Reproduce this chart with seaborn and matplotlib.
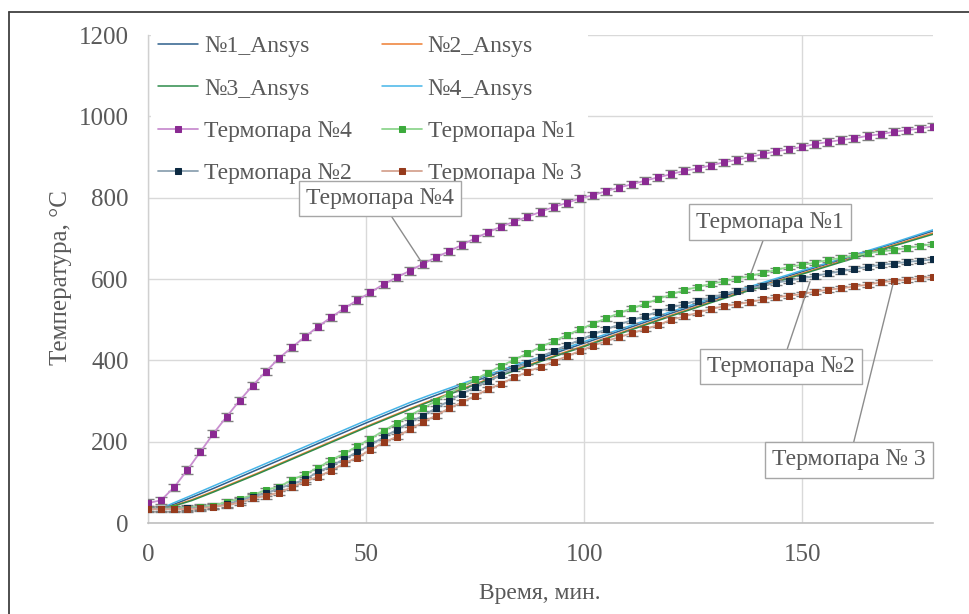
import matplotlib
matplotlib.use("Agg")
import matplotlib.pyplot as plt
import seaborn as sns
import pandas as pd
import numpy as np
from matplotlib.lines import Line2D

# ---------------- data ----------------
t_tc = list(range(0, 181, 3))  # thermocouple readings every 3 min

tc4 = [49, 56, 88, 130, 175, 220, 261, 301, 338, 372, 405, 432, 458, 483, 506, 528, 548, 567, 587, 604, 620,
       637, 653, 668, 684, 700, 715, 729, 741, 753, 765, 777, 787, 798, 806, 816, 825, 833, 842, 850, 858,
       866, 872, 879, 887, 893, 900, 907, 914, 919, 925, 932, 937, 942, 946, 952, 956, 962, 966, 970, 975]
tc1 = [35, 35, 36, 38, 40, 43, 52, 59, 69, 81, 89, 106, 120, 136, 155, 171, 189, 207, 227, 245, 264,
       282, 300, 318, 337, 353, 370, 386, 402, 417, 433, 447, 462, 476, 490, 503, 516, 528, 539, 551, 562,
       573, 580, 588, 594, 601, 607, 615, 622, 630, 635, 640, 647, 652, 658, 663, 668, 671, 676, 681, 686]
tc2 = [35, 35, 35, 36, 38, 40, 46, 55, 65, 73, 85, 96, 107, 126, 140, 157, 175, 192, 211, 229, 247,
       264, 282, 300, 318, 334, 349, 365, 380, 394, 409, 423, 437, 450, 464, 476, 488, 499, 509, 520, 530,
       538, 547, 554, 563, 571, 578, 583, 591, 596, 602, 607, 614, 619, 625, 630, 635, 638, 642, 645, 648]
tc3 = [34, 34, 34, 34, 36, 40, 44, 50, 61, 66, 75, 88, 102, 114, 129, 147, 161, 180, 198, 212, 230,
       248, 264, 282, 297, 313, 329, 343, 358, 372, 384, 397, 410, 423, 436, 447, 457, 467, 477, 487, 500,
       508, 517, 526, 533, 538, 543, 550, 555, 559, 563, 569, 574, 577, 582, 586, 592, 595, 598, 602, 605]
err_tc4 = 9
err_tc = 6

t_ansys = [3, 6, 10, 15, 20, 25, 30, 35, 40, 45, 50, 55, 60, 65, 70, 75, 80, 85, 90, 95, 100,
           110, 120, 130, 140, 150, 160, 170, 180]
ansys1 = [36, 46, 63, 85, 108, 131, 154, 177, 200, 223, 246, 268, 290, 310, 330, 349, 368, 387, 405, 424, 442,
          479, 516, 551, 585, 618, 651, 684, 718]
ansys2 = [36, 43, 57, 78, 100, 122, 145, 168, 191, 214, 237, 259, 281, 302, 322, 342, 361, 380, 399, 418, 436,
          474, 511, 547, 581, 614, 647, 680, 713]
ansys3 = [36, 42, 55, 76, 98, 120, 143, 166, 189, 212, 235, 257, 279, 300, 320, 340, 359, 378, 397, 416, 434,
          472, 509, 545, 579, 612, 645, 678, 710]
ansys4 = [36, 50, 68, 91, 114, 137, 160, 183, 206, 229, 252, 274, 296, 316, 335, 354, 372, 391, 409, 428, 446,
          483, 520, 555, 588, 621, 653, 686, 721]

ansys_labels = ["№1_Ansys", "№2_Ansys", "№3_Ansys", "№4_Ansys"]
tc_labels = ["Термопара №4", "Термопара №1", "Термопара №2", "Термопара № 3"]

x_ticks = [0, 50, 100, 150]
y_ticks = [0, 200, 400, 600, 800, 1000, 1200]

# ---------------- style ----------------
sns.set_theme(style="white")
plt.rcParams['font.family'] = ['Liberation Serif', 'DejaVu Serif']
TXT = "#595959"

fig = plt.figure(figsize=(9.7, 6.14), dpi=100)
W, H = 970, 614
L, R, T, B = 148, 933, 35, 523
ax = fig.add_axes([L / W, 1 - B / H, (R - L) / W, (B - T) / H])

ansys_colors = ["#2e5f8c", "#ed7d31", "#2e8b4a", "#45b5e8"]
tc_line = ["#c98fd0", "#8fd68f", "#8da3b2", "#d6a491"]
tc_mark = ["#8a2a92", "#3caa3c", "#0c2a42", "#963a1c"]

for lab, vals, c in zip(ansys_labels, [ansys1, ansys2, ansys3, ansys4], ansys_colors):
    sns.lineplot(x=t_ansys, y=vals, ax=ax, color=c, lw=1.1, label=lab, zorder=3)

for lab, vals, cl, cm, e in zip(tc_labels, [tc4, tc1, tc2, tc3], tc_line, tc_mark,
                                [err_tc4, err_tc, err_tc, err_tc]):
    ax.errorbar(t_tc, vals, yerr=e, fmt='none', ecolor="#7f7f7f", elinewidth=0.9,
                capsize=4, capthick=1.0, zorder=4)
    sns.lineplot(x=t_tc, y=vals, ax=ax, color=cl, lw=1.3, marker='s', markersize=4.5,
                 markerfacecolor=cm, markeredgecolor=cm, label=lab, zorder=5)

ax.set_xlim(0, 180)
ax.set_ylim(0, 1200)
ax.set_xticks(x_ticks)
ax.set_yticks(y_ticks)
ax.grid(True, color="#d9d9d9", lw=1)
ax.set_axisbelow(True)
for s in ["top", "right"]:
    ax.spines[s].set_visible(False)
ax.spines["left"].set_color("#d0d0d0")
ax.spines["bottom"].set_color("#bfbfbf")
ax.spines["left"].set_linewidth(1)
ax.spines["bottom"].set_linewidth(1.2)
ax.tick_params(axis='both', length=0, labelsize=18, labelcolor=TXT)
ax.tick_params(axis='y', pad=14)
ax.tick_params(axis='x', pad=15)

ax.set_xlabel("Время, мин.", fontsize=17, color=TXT)
ax.set_ylabel("Температура, °С", fontsize=18, color=TXT)
ax.xaxis.set_label_coords((540 - L) / (R - L), (B - 594) / (B - T))
ax.yaxis.set_label_coords((61 - L) / (R - L), (B - 278) / (B - T))
ax.xaxis.label.set_va('center')
ax.yaxis.label.set_va('center')

# legend
h, l = ax.get_legend_handles_labels()
d = dict(zip(l, h))
order = ["№1_Ansys", "№3_Ansys", "Термопара №4", "Термопара №2",
         "№2_Ansys", "№4_Ansys", "Термопара №1", "Термопара № 3"]
leg = ax.legend([d[k] for k in order], order, ncol=2, loc="upper left",
                bbox_to_anchor=(0.004, 1.013), borderaxespad=0, frameon=True,
                fontsize=17, handlelength=1.7, handletextpad=0.25, columnspacing=1.25,
                labelspacing=0.88, borderpad=0.3)
leg.get_frame().set_facecolor("white")
leg.get_frame().set_edgecolor("none")
leg.get_frame().set_alpha(1)
leg.set_zorder(10)
for txt in leg.get_texts():
    txt.set_color(TXT)

# annotations
box = dict(boxstyle="square,pad=0.3", fc="white", ec="#a6a6a6", lw=1)
arr = dict(arrowstyle="-", color="#8c8c8c", lw=1, shrinkA=0, shrinkB=2)
ann = [("Термопара №4", (63, 637), (53.2, 797)),
       ("Термопара №1", (138, 607), (142.6, 740)),
       ("Термопара №2", (152, 600), (145.2, 384)),
       ("Термопара № 3", (171, 595), (160.8, 155))]
for txt, xy, xyt in ann:
    ax.annotate(txt, xy=xy, xytext=xyt, textcoords="data", fontsize=17, color=TXT,
                ha="center", va="center", bbox=box, arrowprops=arr, zorder=12)

# outer frame (top and left edges visible)
fig.add_artist(Line2D([9 / W, 1], [1 - 12 / H, 1 - 12 / H], color="#404040", lw=1.3))
fig.add_artist(Line2D([9 / W, 9 / W], [0, 1 - 12 / H], color="#404040", lw=1.3))

fig.savefig("out.png", dpi=100)
